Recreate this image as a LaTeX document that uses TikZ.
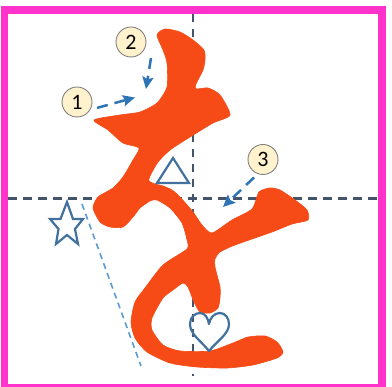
\documentclass[tikz,border=0pt]{standalone}
\usepackage{fontspec}
\setmainfont{Carlito}
\usetikzlibrary{arrows.meta}
\definecolor{framepink}{HTML}{FF33CC}
\definecolor{guide}{HTML}{44546A}
\definecolor{glyph}{HTML}{F64B17}
\definecolor{callout}{HTML}{FFF2CC}
\definecolor{arrowblue}{HTML}{2E75B6}
\definecolor{shapeblue}{HTML}{41719C}
\definecolor{lightblue}{HTML}{5B9BD5}
\tikzset{
  guideline/.style={guide,line width=2.4pt,dash pattern=on 8.5pt off 6.5pt},
  markshape/.style={shapeblue,line width=2.2pt,line join=miter},
  numcircle/.style={circle,draw=gray,line width=0.9pt,fill=callout,minimum size=30pt,inner sep=0pt,font=\fontsize{22}{26}\selectfont},
  callarrow/.style={arrowblue,line width=2.5pt,dash pattern=on 11pt off 7pt,-{Stealth[length=12pt,width=11pt,inset=2pt]}}
}
\begin{document}
\begin{tikzpicture}[x=1pt,y=-1pt]
\useasboundingbox (0,0) rectangle (392,387);
\clip (0,0) rectangle (392,387);
\fill[white] (0,0) rectangle (392,387);
% guides
\draw[guideline] (8,198.5) -- (378,198.5);
\draw[guideline] (193,14) -- (193,376);
% glyph
\filldraw[glyph,line width=0.6pt,line join=round] plot[smooth cycle,tension=0.4] coordinates {
 (157,35) (165,29) (180,32) (193,40) (204,50) (205,60) (203,70) (196,84) (196,89)
 (208,88) (220,95) (230,115) (213,123) (190,137) (170,150) (158,162) (150,176) (149,181)
 (155,184) (163,186) (172,190) (180,197) (193,212) (202,225) (212,233) (232,220) (252,209)
 (259,192) (270,188) (280,190) (295,200) (307,210) (308,220) (292,224) (272,232)
 (235,245) (220,252) (215,259) (215,267) (220,287) (220,298) (218,308) (210,313) (200,312)
 (194,302) (188,287) (183,283) (173,290) (163,298) (152,318) (152,330) (163,345) (180,351)
 (210,351) (233,343) (248,337) (265,336) (277,342) (283,352) (277,358) (253,365)
 (227,368) (197,367) (170,363) (147,352) (135,338) (131,322) (135,302) (145,288)
 (163,265) (187,249) (187,240) (182,223) (170,208) (157,200) (150,201) (140,208) (133,217) (123,227)
 (110,227) (100,222) (93,208) (98,197) (113,188) (123,177) (133,160) (139,148) (123,143)
 (108,130) (94,120) (120,115) (140,112) (157,103) (167,87) (167,63) (163,50)
};
% frame
\draw[framepink,line width=7.6pt] (4.6,10) rectangle (382,388);
% shapes
\draw[markshape] (173,158) -- (189,183) -- (157,183) -- cycle;
\draw[markshape] (67,202) -- (73,219) -- (83,219) -- (75,229) -- (78,244) -- (67,235)
  -- (56,244) -- (58.5,229) -- (50,219) -- (60.5,219) -- cycle;
\draw[markshape,line join=round] (209,351)
  .. controls (200,340) and (190,334) .. (190,324)
  .. controls (190,317) and (195,313) .. (200,313)
  .. controls (205,313) and (208,318) .. (209,324)
  .. controls (210,318) and (214,313) .. (220,313)
  .. controls (225,313) and (229,318) .. (229,324)
  .. controls (229,334) and (218,340) .. (209,351) -- cycle;
\draw[lightblue,line width=1.6pt,dash pattern=on 6pt off 4.5pt] (82,204) -- (141,366);
% callouts
\node[numcircle] (c1) at (77,102) {1};
\node[numcircle] (c2) at (131,42) {2};
\node[numcircle] (c3) at (263,159.5) {3};
\coordinate (t1) at (135,97.5);
\coordinate (t2) at (146,89);
\coordinate (t3) at (223,207);
\draw[callarrow,shorten <=7pt] (c1.-30) -- (t1);
\draw[callarrow] (c2) ++(20,16) -- (t2);
\draw[callarrow,shorten <=5pt] (c3.-110) -- (t3);
\end{tikzpicture}
\end{document}
